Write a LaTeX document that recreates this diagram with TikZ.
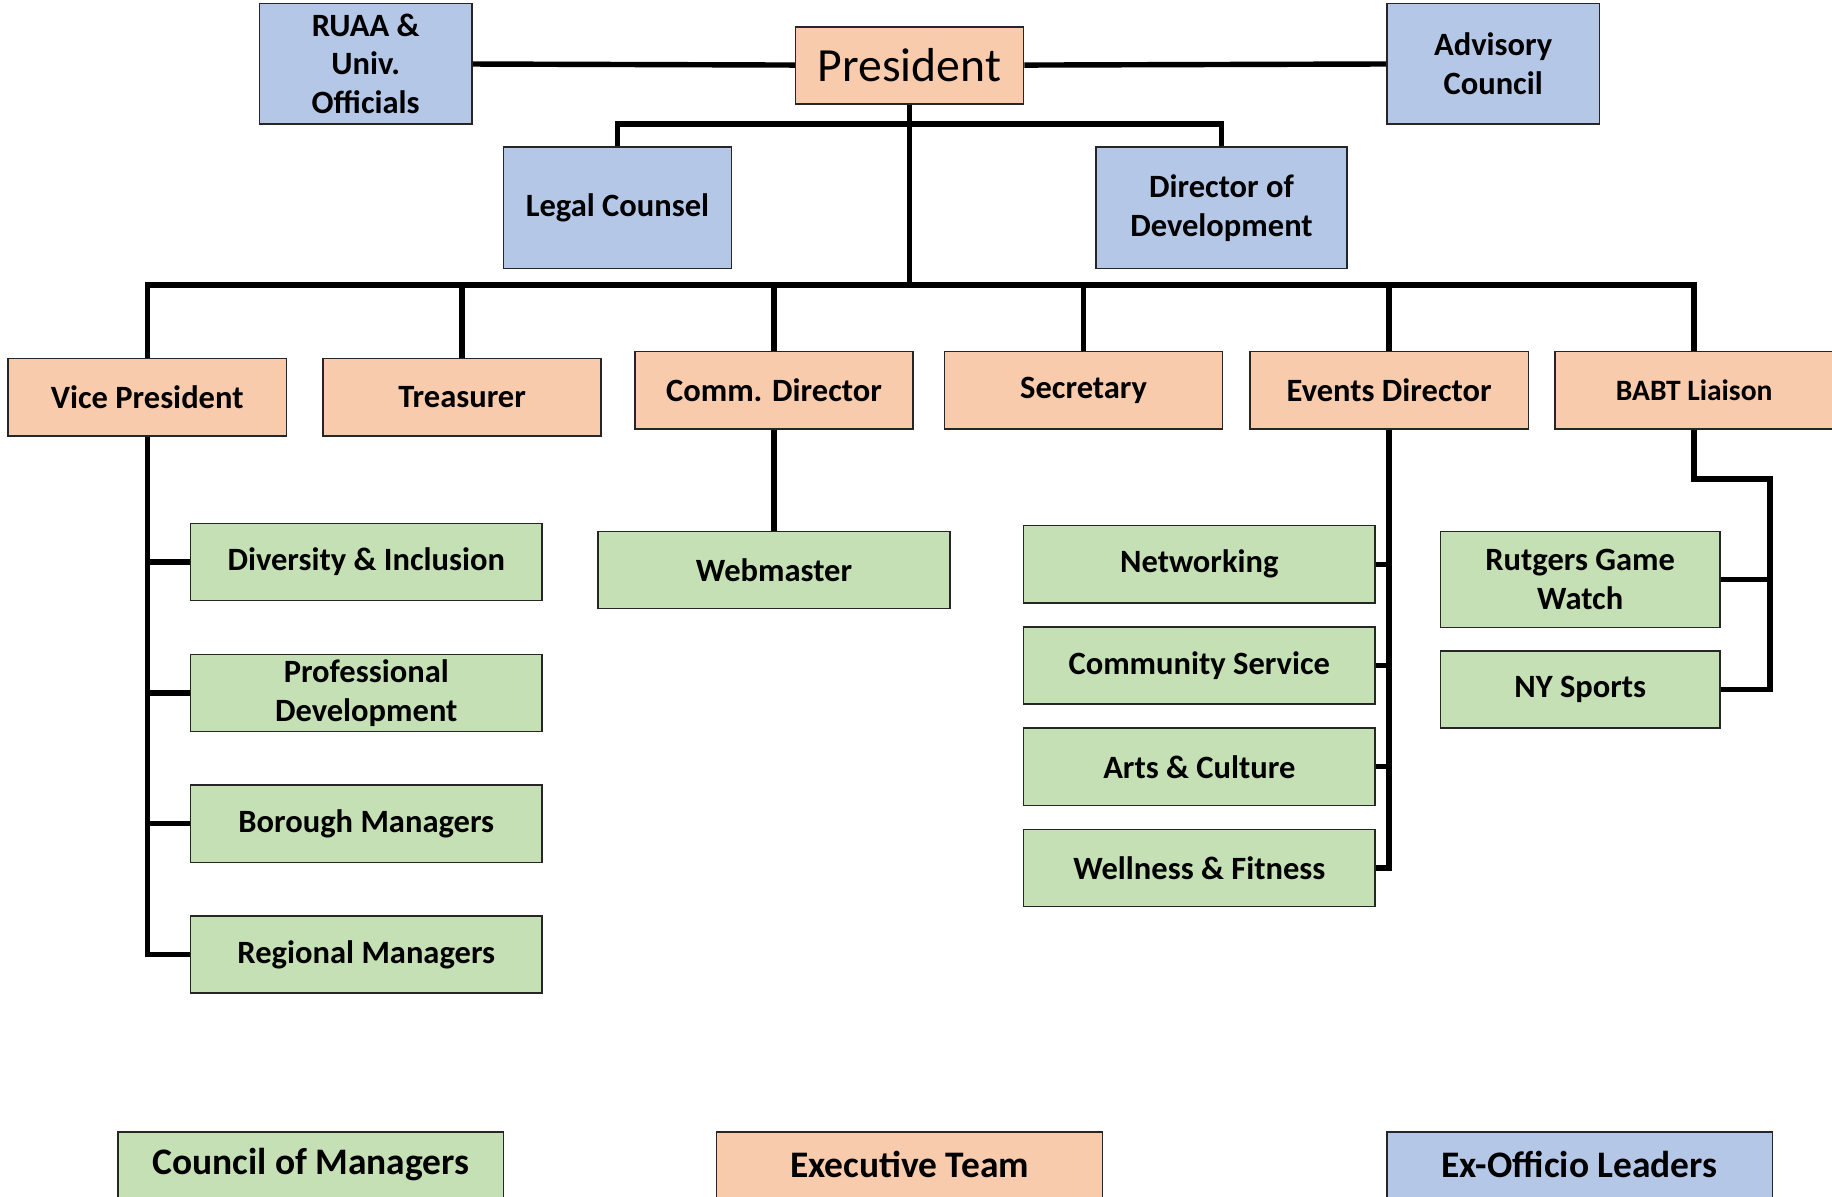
\documentclass[tikz,border=0pt]{standalone}
\usepackage{fontspec}
\setmainfont{Carlito}

\definecolor{execorange}{HTML}{F8CBAD}
\definecolor{exoblue}{HTML}{B4C7E7}
\definecolor{mgrgreen}{HTML}{C5E0B4}

\tikzset{
  box/.style={draw=black!85, line width=0.9pt, inner sep=0pt, align=center,
              font=\fontsize{19.8}{23.5}\selectfont\bfseries},
  exec/.style={box, fill=execorange, minimum width=5.95cm, minimum height=1.65cm},
  exof/.style={box, fill=exoblue, minimum width=4.55cm, minimum height=2.575cm},
  mgr/.style={box, fill=mgrgreen, minimum width=7.525cm, minimum height=1.65cm},
  keybox/.style={box, minimum width=8.25cm, minimum height=1.4cm,
                 font=\fontsize{22.8}{27}\selectfont\bfseries},
  link/.style={line width=3.3pt}
}

\begin{document}
\begin{tikzpicture}[x=0.025cm, y=0.025cm, node distance=2.8cm]
  \useasboundingbox (0,0) rectangle (1568,-1024);

  \node[exec, minimum width=4.875cm, font=\fontsize{29}{33}\selectfont]
                                  (pres)     at (778.5,-56)   {President};
  \node[exof]                     (ruaa)     at (313,-54.5)   {RUAA \&\\Univ.\\Officials};
  \node[exof]                     (advis)    at (1278,-54.5)  {Advisory\\Council};
  \node[exof, minimum width=4.875cm, minimum height=2.6cm]
                                  (legal)    at (528.5,-178)  {Legal Counsel};
  \node[exof, minimum width=5.375cm, minimum height=2.6cm]
                                  (devdir)   at (1045.5,-178) {Director of\\Development};

  % executive team
  \node[exec]                     (vp)       at (126,-340)    {Vice President};
  \node[exec]                     (treas)    at (395.5,-340)  {Treasurer};
  \node[exec]                     (comm)     at (662.5,-334)  {Comm. Director};
  \node[exec]                     (sec)      at (927.5,-334)  {Secretary};
  \node[exec]                     (events)   at (1189,-334)   {Events Director};
  \node[exec, font=\fontsize{18}{21}\selectfont\bfseries]
                                  (babt)     at (1450,-334)   {BABT Liaison};

  % council of managers
  \node[mgr]                      (divinc)   at (313.5,-481)  {Diversity \& Inclusion};
  \node[mgr]                      (profdev)  [below of=divinc]   {Professional\\Development};
  \node[mgr]                      (borough)  [below of=profdev]  {Borough Managers};
  \node[mgr]                      (regional) [below of=borough]  {Regional Managers};
  \node[mgr]                      (webm)     at (662.5,-488)  {Webmaster};
  \node[mgr]                      (netw)     at (1026.5,-483) {Networking};
  \node[mgr]                      (commserv) [below of=netw, node distance=2.165cm]     {Community Service};
  \node[mgr]                      (arts)     [below of=commserv, node distance=2.165cm] {Arts \& Culture};
  \node[mgr]                      (wellfit)  [below of=arts, node distance=2.165cm]     {Wellness \& Fitness};
  \node[mgr, minimum width=5.975cm, minimum height=2.05cm]
                                  (rgw)      at (1352.5,-496) {Rutgers Game\\Watch};
  \node[mgr, minimum width=5.975cm]
                                  (nysports) at (1352.5,-590) {NY Sports};

  % key
  \node[keybox, fill=mgrgreen]    (keymgr)   at (266,-997)    {Council of Managers};
  \node[keybox, fill=execorange]  (keyexec)  at (778.5,-997)  {Executive Team};
  \node[keybox, fill=exoblue]     (keyexof)  at (1352,-997)   {Ex-Officio Leaders};

  \coordinate (topbus)   at (778.5,-106);
  \coordinate (mainbus)  at (778.5,-244);
  \coordinate (babtbend) at (1515,-410);

  \draw[link] (ruaa) -- (pres);
  \draw[link] (pres) -- (advis);
  \draw[link] (pres.south) -- (mainbus);
  \draw[link] (legal.north) |- (topbus) -| (devdir.north);
  \draw[link] (vp.north) |- (mainbus) -| (babt.north);
  \foreach \n in {treas,comm,sec,events}
    \draw[link] (\n.north) -- (\n.north |- mainbus);

  \draw[link] (vp.south) |- (regional.west);
  \foreach \n in {divinc,profdev,borough}
    \draw[link] (vp.south |- \n.west) -- (\n.west);
  \draw[link] (comm) -- (webm);
  \draw[link] (events.south) |- (wellfit.east);
  \foreach \n in {netw,commserv,arts}
    \draw[link] (events.south |- \n.east) -- (\n.east);
  \draw[link] (babt.south) |- (babtbend) |- (nysports.east);
  \draw[link] (rgw.east) -- (rgw.east -| babtbend);
\end{tikzpicture}
\end{document}
